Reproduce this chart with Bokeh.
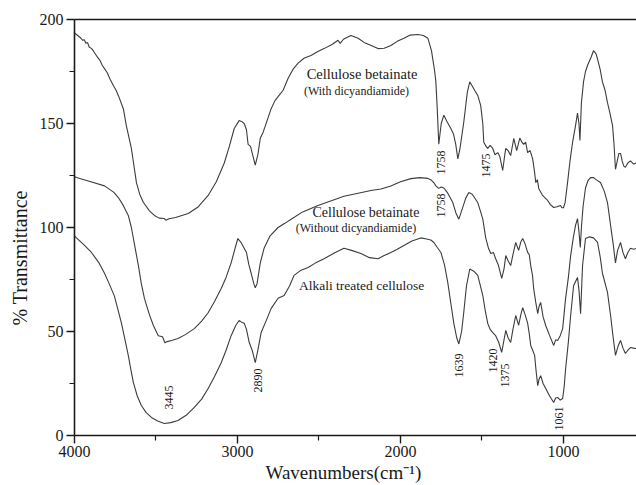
import math
from bokeh.plotting import figure
from bokeh.models import Range1d, FixedTicker, LinearAxis, Title, ColumnDataSource
from bokeh.core.properties import value
from bokeh.embed import file_html
from bokeh.resources import INLINE

# --- FTIR spectra (wavenumber in cm^-1, % transmittance) ---
wn_with = [4000, 3988, 3960, 3950, 3940, 3930, 3920, 3910, 3895, 3885, 3870, 3860, 3845,
           3830, 3816, 3800, 3780, 3760, 3745, 3731, 3700, 3682, 3651, 3620, 3600, 3577,
           3540, 3510, 3480, 3449, 3440, 3420, 3380, 3302, 3240, 3180, 3130, 3081, 3050,
           3020, 2990, 2975, 2959, 2945, 2935, 2920, 2904, 2891, 2875, 2860, 2843, 2820,
           2794, 2770, 2745, 2720, 2690, 2660, 2628, 2590, 2549, 2510, 2469, 2420, 2383,
           2370, 2350, 2304, 2260, 2224, 2180, 2138, 2100, 2059, 2020, 1979, 1940, 1893,
           1860, 1832, 1810, 1790, 1783, 1775, 1765, 1750, 1734, 1715, 1691, 1675, 1661,
           1648, 1635, 1612, 1590, 1575, 1560, 1545, 1526, 1508, 1495, 1489, 1475, 1465,
           1450, 1434, 1420, 1403, 1390, 1373, 1360, 1354, 1340, 1324, 1305, 1287, 1268,
           1255, 1244, 1232, 1220, 1205, 1189, 1178, 1170, 1160, 1152, 1128, 1110, 1097,
           1080, 1060, 1040, 1018, 1010, 1000, 990, 975, 960, 944, 926, 914, 905, 899,
           890, 877, 865, 852, 830, 816, 800, 791, 775, 761, 745, 730, 715, 699, 690, 681,
           670, 660, 650, 640, 630, 620, 605, 589, 570, 552]
t_with = [193.5, 192.8, 191.0, 190.0, 190.3, 188.6, 188.9, 186.8, 186.0, 185.0, 183.2, 182.0,
          180.5, 178.0, 176.4, 174.5, 171.0, 168.0, 166.0, 163.5, 157.0, 149.0, 138.0, 121.6,
          116.0, 112.0, 108.0, 105.8, 104.5, 104.3, 103.5, 104.2, 104.8, 106.7, 110.0, 115.4,
          122.0, 131.0, 139.0, 147.6, 151.4, 151.0, 150.0, 147.0, 140.0, 139.0, 134.0, 130.0,
          135.0, 143.0, 145.7, 151.0, 157.0, 161.0, 163.5, 166.0, 171.6, 176.0, 179.0, 181.5,
          182.7, 184.5, 186.0, 188.0, 190.0, 188.5, 190.5, 192.3, 191.0, 189.0, 187.5, 186.0,
          186.2, 187.5, 189.5, 191.0, 192.5, 192.8, 192.3, 191.0, 185.0, 175.0, 170.0, 158.0,
          140.0, 150.0, 154.0, 151.0, 147.6, 145.0, 140.0, 133.0, 138.0, 150.5, 165.0, 170.0,
          168.0, 166.0, 163.5, 158.7, 150.0, 141.0, 139.0, 138.0, 139.5, 138.0, 135.0, 136.0,
          134.0, 127.4, 135.0, 138.0, 137.0, 134.6, 142.8, 137.0, 143.0, 141.0, 140.0, 141.0,
          136.0, 137.0, 133.0, 127.0, 121.6, 123.0, 118.8, 115.4, 114.0, 113.0, 111.0, 109.6,
          110.0, 110.6, 109.5, 109.5, 112.0, 121.6, 132.0, 141.0, 149.0, 155.0, 150.0, 141.8,
          160.0, 170.0, 175.0, 178.0, 182.0, 185.0, 183.5, 181.0, 176.0, 170.0, 166.0, 160.0,
          155.0, 149.0, 140.0, 128.0, 132.0, 135.6, 135.6, 132.0, 129.5, 129.0, 131.0, 132.0,
          130.5, 131.0]

wn_without = [4000, 3988, 3900, 3816, 3760, 3731, 3700, 3670, 3651, 3630, 3608, 3590, 3571,
              3540, 3516, 3486, 3460, 3445, 3437, 3400, 3365, 3320, 3265, 3220, 3180, 3140,
              3100, 3070, 3039, 3015, 2998, 2980, 2959, 2945, 2930, 2916, 2900, 2891, 2880,
              2860, 2837, 2800, 2751, 2710, 2671, 2600, 2506, 2420, 2347, 2260, 2181, 2120,
              2059, 2000, 1936, 1880, 1832, 1814, 1795, 1783, 1765, 1750, 1734, 1710, 1679,
              1660, 1642, 1625, 1600, 1581, 1560, 1526, 1510, 1495, 1477, 1460, 1446, 1430,
              1416, 1400, 1379, 1365, 1354, 1340, 1324, 1310, 1293, 1275, 1262, 1250, 1235,
              1220, 1210, 1201, 1190, 1183, 1170, 1158, 1150, 1140, 1125, 1109, 1085, 1060,
              1048, 1036, 1020, 1005, 987, 970, 956, 940, 926, 914, 905, 897, 890, 880, 865,
              850, 834, 815, 800, 773, 750, 730, 711, 695, 681, 668, 650, 635, 620, 605, 589,
              570, 552]
t_without = [124.5, 124.0, 122.0, 120.0, 117.0, 114.4, 110.5, 105.8, 100.0, 91.0, 81.7, 73.0,
             65.9, 58.0, 52.9, 48.0, 47.5, 44.5, 45.0, 45.8, 46.6, 48.5, 51.4, 55.0, 59.0, 64.5,
             70.7, 76.0, 83.0, 90.0, 94.7, 93.0, 90.0, 88.0, 82.0, 78.0, 73.0, 71.0, 73.0, 83.0,
             90.0, 96.0, 100.0, 102.0, 104.0, 107.5, 110.6, 113.0, 115.0, 116.5, 117.8, 118.5,
             120.0, 122.0, 123.5, 124.0, 123.6, 123.0, 121.5, 120.0, 118.8, 119.5, 119.0, 116.5,
             112.0, 107.0, 104.0, 108.0, 114.0, 116.8, 116.0, 112.0, 108.0, 104.0, 95.0, 90.0,
             87.5, 88.0, 85.0, 82.0, 75.5, 80.0, 86.5, 84.0, 81.7, 87.0, 92.8, 89.0, 93.0, 94.7,
             92.0, 88.0, 87.0, 81.7, 77.0, 70.7, 64.0, 58.6, 62.0, 64.0, 57.0, 52.9, 48.0, 43.3,
             46.0, 45.7, 48.0, 51.4, 65.9, 76.0, 86.5, 95.0, 101.0, 104.3, 98.0, 90.4, 100.0,
             110.0, 119.0, 122.5, 124.0, 124.0, 123.0, 121.6, 117.5, 112.0, 101.0, 92.0, 83.0,
             89.0, 92.8, 88.0, 85.0, 88.0, 90.0, 89.5, 90.0]

wn_alkali = [4000, 3988, 3940, 3896, 3850, 3816, 3790, 3755, 3735, 3712, 3690, 3670, 3655,
             3639, 3615, 3590, 3560, 3528, 3490, 3449, 3410, 3365, 3310, 3265, 3220, 3180,
             3140, 3100, 3070, 3039, 3010, 2990, 2975, 2959, 2945, 2928, 2910, 2891, 2875,
             2855, 2825, 2794, 2751, 2714, 2680, 2653, 2610, 2567, 2520, 2469, 2400, 2347,
             2300, 2243, 2190, 2138, 2100, 2059, 2020, 1979, 1930, 1875, 1840, 1814, 1795,
             1775, 1752, 1730, 1710, 1690, 1673, 1655, 1642, 1625, 1612, 1595, 1575, 1550,
             1526, 1510, 1495, 1480, 1465, 1450, 1434, 1416, 1397, 1379, 1365, 1354, 1340,
             1324, 1310, 1293, 1275, 1262, 1250, 1235, 1220, 1210, 1201, 1189, 1177, 1168,
             1158, 1150, 1140, 1125, 1109, 1085, 1060, 1048, 1036, 1020, 1005, 995, 987, 970,
             956, 938, 914, 905, 895, 883, 865, 840, 816, 791, 775, 761, 730, 711, 695, 681,
             665, 650, 635, 620, 605, 589, 570, 552]
t_alkali = [96.0, 95.0, 91.5, 88.0, 83.0, 78.0, 73.5, 67.0, 61.0, 54.0, 46.0, 38.5, 32.0,
            25.5, 19.0, 14.4, 11.0, 8.7, 7.0, 5.8, 6.2, 7.2, 10.0, 13.5, 17.5, 22.6, 28.5,
            35.0, 41.0, 48.0, 53.0, 55.3, 54.5, 54.0, 51.0, 44.7, 41.0, 35.0, 41.0, 49.5,
            55.0, 61.0, 66.0, 67.3, 72.0, 77.0, 79.5, 80.8, 83.0, 85.0, 88.0, 90.0, 89.0,
            87.5, 85.5, 85.0, 86.5, 88.0, 89.5, 91.3, 93.5, 95.0, 94.5, 94.0, 92.8, 90.5,
            88.0, 82.0, 73.6, 63.0, 54.0, 47.0, 44.0, 50.0, 59.0, 72.0, 80.0, 79.0, 77.0,
            72.0, 67.3, 60.0, 54.0, 51.0, 49.5, 48.0, 44.7, 40.0, 46.0, 50.5, 47.0, 44.7,
            51.0, 57.7, 53.0, 58.0, 61.5, 58.0, 54.0, 49.0, 43.3, 41.0, 38.5, 31.0, 24.0,
            27.0, 28.8, 25.0, 22.6, 19.0, 15.9, 18.0, 18.3, 17.0, 17.8, 24.0, 32.0, 45.0,
            57.7, 72.0, 76.0, 70.0, 58.6, 81.7, 94.7, 95.5, 95.0, 92.8, 86.0, 78.0, 68.8,
            57.7, 47.0, 38.5, 43.0, 45.7, 42.0, 39.4, 41.0, 42.3, 42.0, 41.8]

# peak assignments (text, position of the label centre)
peak_text = ["1758", "1475", "1758", "3445", "2890", "1639", "1420", "1375", "1061"]
peak_x = [1752, 1477, 1752, 3418, 2873, 1642, 1434, 1361, 1030]
peak_y = [131.3, 129.8, 110.6, 18.3, 26.4, 33.7, 36.0, 28.8, 8.2]

# curve names
name_text = ["Cellulose betainate", "(With dicyandiamide)",
             "Cellulose betainate", "(Without dicyandiamide)",
             "Alkali treated cellulose"]
name_x = [2236, 2270, 2212, 2273, 2239]
name_y = [174.0, 165.4, 107.2, 100.0, 72.1]
name_size = ["14.5px", "12px", "14px", "12px", "13.5px"]

x_ticks = [4000, 3000, 2000, 1000]
x_minor = [3500, 2500, 1500, 500]
y_ticks = [0, 50, 100, 150, 200]
y_minor = [25, 75, 125, 175]

SERIF = "Liberation Serif"
INK = "#1a1a1a"
CURVE = "#3c3c3c"

p = figure(width=636, height=485, output_backend="svg", toolbar_location=None,
           x_range=Range1d(4000, 552), y_range=Range1d(0, 200),
           min_border_left=73, min_border_right=0, min_border_top=19,
           min_border_bottom=50)
p.outline_line_color = None
p.grid.visible = False
p.background_fill_color = "white"
p.border_fill_color = "white"

for wn, tr in ((wn_with, t_with), (wn_without, t_without), (wn_alkali, t_alkali)):
    p.line(wn, tr, line_color=CURVE, line_width=1.1)

# axes
xa = p.xaxis[0]
xa.ticker = FixedTicker(ticks=x_ticks, minor_ticks=x_minor)
ya = p.yaxis[0]
ya.ticker = FixedTicker(ticks=y_ticks, minor_ticks=y_minor)
for ax in (xa, ya):
    ax.axis_line_width = 1.6
    ax.axis_line_color = INK
    ax.major_tick_line_color = INK
    ax.minor_tick_line_color = INK
    ax.major_tick_line_width = 1.4
    ax.minor_tick_line_width = 1.2
    ax.major_tick_in = 0
    ax.major_tick_out = 8
    ax.minor_tick_in = 0
    ax.minor_tick_out = 5
    ax.major_label_text_font = SERIF
    ax.major_label_text_font_size = "16px"
    ax.major_label_text_color = INK
xa.major_label_standoff = 2
ya.major_label_standoff = 3

# top frame edge
top = LinearAxis(ticker=FixedTicker(ticks=[]), axis_line_width=1.6, axis_line_color=INK)
p.add_layout(top, "above")

# axis titles
p.add_layout(Title(text="Wavenumbers(cm\u207b\u00b9)", align="left", offset=191, standoff=0,
                   text_font=SERIF, text_font_size="19px", text_font_style="normal",
                   text_color=INK), "below")
p.add_layout(Title(text="% Transmittance", align="left", offset=110, standoff=12,
                   text_font=SERIF, text_font_size="20px", text_font_style="normal",
                   text_color=INK), "left")

# peak labels
peaks = ColumnDataSource(dict(x=peak_x, y=peak_y, text=peak_text))
p.text("x", "y", text="text", source=peaks, angle=math.pi / 2, text_align="center",
       text_baseline="middle", text_font=value(SERIF), text_font_size="12px",
       text_color=INK)

# curve names
names = ColumnDataSource(dict(x=name_x, y=name_y, text=name_text, size=name_size))
p.text("x", "y", text="text", source=names, text_align="center", text_baseline="middle",
       text_font=value(SERIF), text_font_size="size", text_color=INK)

open("out.html", "w").write(file_html(p, INLINE))
